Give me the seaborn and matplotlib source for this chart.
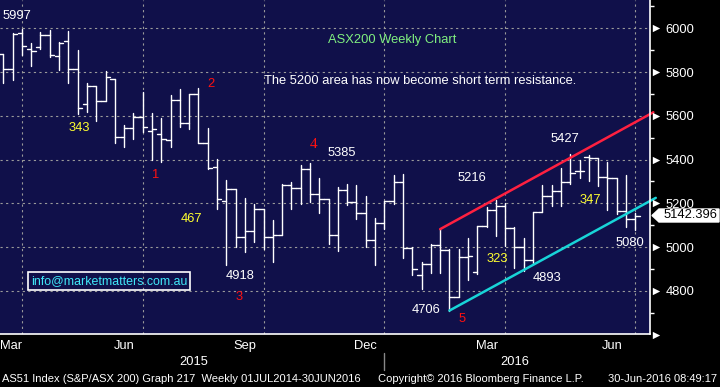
import numpy as np
import pandas as pd
import matplotlib
matplotlib.use("Agg")
import matplotlib.pyplot as plt
from matplotlib.patches import Polygon
import seaborn as sns

# ---------------- data (weekly OHLC, ASX200) ----------------
dates = pd.date_range(end="2016-06-24", periods=68, freq="W-FRI").append(
    pd.DatetimeIndex(["2016-06-30"]))
opens = [5883, 5813, 5977, 5907, 5913, 5968, 5872, 5941, 5813, 5653, 5735, 5667,
         5767, 5502, 5543, 5593, 5531, 5516, 5488, 5671, 5567, 5698, 5475, 5365,
         5210, 5264, 5045, 5073, 5173, 5045, 5054, 5283, 5269, 5356, 5243, 5219,
         5054, 5260, 5205, 5158, 5033, 5109, 5211, 5296, 4995, 4872, 4922, 5009,
         4987, 4771, 4957, 4888, 5098, 5170, 5188, 5089, 5002, 4942, 5162, 5234,
         5258, 5299, 5350, 5413, 5406, 5319, 5315, 5167, 5130]
highs = [5883, 5977, 5997, 5931, 5982, 5992, 5936, 5988, 5901, 5749, 5735, 5805,
         5767, 5557, 5612, 5708, 5612, 5589, 5695, 5721, 5698, 5726, 5543, 5402,
         5307, 5264, 5223, 5196, 5173, 5124, 5287, 5298, 5375, 5385, 5316, 5219,
         5274, 5289, 5284, 5234, 5132, 5211, 5330, 5334, 5002, 4934, 5013, 5082,
         4990, 4990, 5041, 5098, 5185, 5216, 5201, 5094, 5041, 5162, 5284, 5284,
         5360, 5427, 5398, 5420, 5406, 5391, 5315, 5330, 5158]
lows = [5751, 5764, 5878, 5828, 5904, 5870, 5810, 5751, 5608, 5619, 5578, 5667,
        5475, 5459, 5496, 5528, 5398, 5391, 5456, 5550, 5539, 5475, 5356, 5176,
        4918, 5002, 4979, 5025, 4990, 4930, 5054, 5173, 5199, 5207, 5158, 5016,
        4984, 5191, 5127, 5002, 4916, 5082, 5196, 4949, 4872, 4810, 4881, 4881,
        4706, 4771, 4850, 4878, 5094, 5051, 5005, 4904, 4893, 4929, 5160, 5188,
        5188, 5290, 5315, 5304, 5280, 5170, 5152, 5090, 5080]
closes = [5813, 5973, 5919, 5898, 5968, 5877, 5931, 5813, 5635, 5735, 5667, 5776,
          5502, 5546, 5596, 5548, 5539, 5493, 5671, 5567, 5698, 5475, 5360, 5219,
          5264, 5045, 5073, 5173, 5045, 5054, 5283, 5269, 5356, 5243, 5219, 5054,
          5260, 5205, 5158, 5033, 5109, 5211, 5296, 4995, 4899, 4922, 5009, 4987,
          4771, 4957, 4960, 5098, 5170, 5188, 5086, 5002, 4942, 5162, 5234, 5258,
          5299, 5338, 5350, 5406, 5319, 5315, 5167, 5130, 5142.396]

# trend channel endpoints (bar position, value)
red_x, red_y = [47, 69.94], [5082, 5616]
cyan_x, cyan_y = [48, 70.2], [4710, 5225]

y_major = [4800, 5000, 5200, 5400, 5600, 5800, 6000]
y_minor = [4700, 4900, 5100, 5300, 5500, 5700, 5900, 6100]
last_value = "5142.396"

# ---------------- style ----------------
sns.set_theme(style="dark")
plt.rcParams["font.family"] = ["Liberation Sans", "DejaVu Sans"]
NAVY = "#10104a"
W, H = 720, 387
X0, X1 = -0.355, 69.58

fig = plt.figure(figsize=(W / 100, H / 100), dpi=100, facecolor="black")
ax = fig.add_axes([0, 53 / H, 650 / W, 334 / H], facecolor=NAVY)

n = len(opens)
idx = np.arange(n)
tw = 0.47

hl = pd.DataFrame({"x": np.repeat(idx, 2).astype(float),
                   "y": np.column_stack([lows, highs]).ravel(),
                   "bar": np.repeat(idx, 2)})
op = pd.DataFrame({"x": np.column_stack([idx - tw, idx]).ravel(),
                   "y": np.repeat(opens, 2), "bar": np.repeat(idx, 2)})
cl = pd.DataFrame({"x": np.column_stack([idx, idx + tw]).ravel(),
                   "y": np.repeat(closes, 2), "bar": np.repeat(idx, 2)})
for d in (hl, op, cl):
    sns.lineplot(data=d, x="x", y="y", units="bar", estimator=None, sort=False,
                 color="white", lw=1.0, ax=ax, legend=False)

sns.lineplot(x=red_x, y=red_y, color="#ff2040", lw=1.8, ax=ax, clip_on=False)
sns.lineplot(x=cyan_x, y=cyan_y, color="#18d4d8", lw=1.8, ax=ax, clip_on=False)

ax.set_xlim(X0, X1)
ax.set_ylim(4603, 6129)
ax.set_xlabel("")
ax.set_ylabel("")

# month-end / quarter-end bars
per = dates.to_period("M")
month_last = pd.Series(idx, index=per).groupby(level=0).max()
q_last = [v for p, v in month_last.items() if p.month in (3, 6, 9, 12)]

grid_kw = dict(color="#9a9a9a", lw=0.8, ls=(0, (2, 3)), zorder=0)
for v in y_major:
    ax.axhline(v, **grid_kw)
for q in q_last:
    ax.axvline(q, **grid_kw)

ax.set_xticks(list(month_last.values))
ax.set_xticklabels([])
ax.tick_params(axis="x", colors="white", length=3, width=1, direction="out")

ax.yaxis.tick_right()
ax.set_yticks(y_major)
ax.set_yticklabels([str(v) for v in y_major])
ax.set_yticks(y_minor, minor=True)
ax.tick_params(axis="y", which="major", length=0, pad=11, labelsize=9.3,
               labelcolor="white")
ax.tick_params(axis="y", which="minor", length=3, width=1, color="white")
for s in ("top", "left"):
    ax.spines[s].set_visible(False)
for s in ("bottom", "right"):
    ax.spines[s].set_color("white")
    ax.spines[s].set_linewidth(1.2)

ytr = ax.get_yaxis_transform()
ax.scatter([1.0085] * (len(y_major) + 1), [4600] + y_major, marker=">", s=28,
           color="white", transform=ytr, clip_on=False, zorder=5, linewidths=0)


def bar_to_fig(b):
    return (b - X0) / (X1 - X0) * 650 / W


# month & year labels
prev = -1
for p, v in month_last.items():
    if p.month in (3, 6, 9, 12):
        fx = max(bar_to_fig((prev + v) / 2), 11 / W)
        fig.text(fx, 1 - 346 / H, p.strftime("%b"), color="white", fontsize=9.3,
                 ha="center", va="center")
    prev = v
years = dates.year
for yv in (2015, 2016):
    sel = idx[years == yv]
    fig.text(bar_to_fig((sel.min() + sel.max()) / 2), 1 - 362 / H, str(yv),
             color="white", fontsize=9.3, ha="center", va="center")
fig.add_artist(plt.Line2D([384 / W, 384 / W], [1 - 353 / H, 1 - 370 / H],
                          color="#888888", lw=1, transform=fig.transFigure))


def ptext(x, y, s, color="white", size=9.3, **kw):
    fig.text(x / W, 1 - y / H, s, color=color, fontsize=size, ha="center",
             va="center", **kw)


ptext(17, 16, "5997")
ptext(392, 40, "ASX200 Weekly Chart", color="#80f080", size=9.3)
ptext(420, 81, "The 5200 area has now become short term resistance.", size=9.3)
ptext(79, 128, "343", color="#ffff30")
ptext(156, 175, "1", color="#ff1010")
ptext(211, 84, "2", color="#ff1010")
ptext(191, 219, "467", color="#ffff30")
ptext(240, 276, "4918")
ptext(239, 297, "3", color="#ff1010")
ptext(314, 144, "4", color="#ff1010", size=11, family="Liberation Serif")
ptext(342, 153, "5385")
ptext(472, 178, "5216")
ptext(497, 259, "323", color="#ffff30")
ptext(426, 310, "4706")
ptext(462, 319, "5", color="#ff1010")
ptext(547, 278, "4893")
ptext(565, 139, "5427")
ptext(590, 200, "347", color="#ffff30")
ptext(630, 243, "5080")

fig.text(109 / W, 1 - 281 / H, "info@marketmatters.com.au", color="#40e8f8",
         fontsize=8.9, ha="center", va="center",
         bbox=dict(boxstyle="square,pad=0.22", fc="none", ec="white", lw=1.2))

# last price flag
flag = Polygon([(652 / W, 1 - 215.5 / H), (659 / W, 1 - 209 / H),
                (719 / W, 1 - 209 / H), (719 / W, 1 - 222 / H),
                (659 / W, 1 - 222 / H)],
               closed=True, fc="white", ec="white", transform=fig.transFigure)
fig.add_artist(flag)
fig.text(690 / W, 1 - 215.5 / H, last_value, color="black", fontsize=9.3,
         ha="center", va="center")

# footer
fig.text(2 / W, 1 - 379 / H,
         "AS51 Index (S&P/ASX 200) Graph 217  Weekly 01JUL2014-30JUN2016",
         color="white", fontsize=8.0, ha="left", va="center")
fig.text(378 / W, 1 - 379 / H, "Copyright\u00a9 2016 Bloomberg Finance L.P.",
         color="white", fontsize=8.0, ha="left", va="center")
fig.text(717 / W, 1 - 379 / H, "30-Jun-2016 08:49:17", color="white",
         fontsize=8.0, ha="right", va="center")

fig.savefig("out.png", dpi=100, facecolor="black")
